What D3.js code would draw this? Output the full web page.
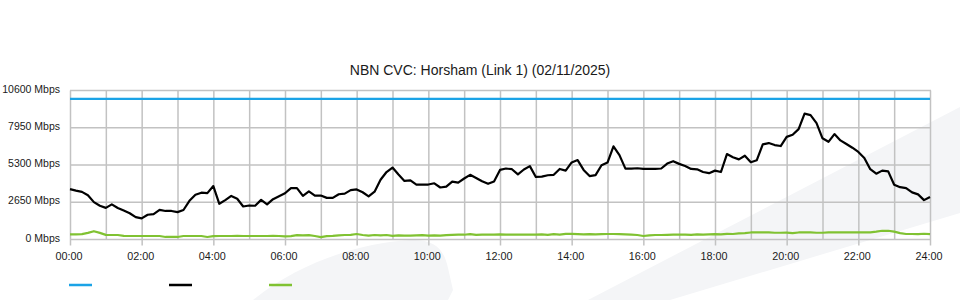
<!DOCTYPE html>
<meta charset="utf-8">
<html>
<head>
    <style>
        body {
            margin: 0;
            background: #fff;
        }

        text {
            font-family: "Liberation Sans", Arial, sans-serif;
            fill: #1a1a1a;
        }

        .grid line {
            stroke: #c2c2c2;
            stroke-width: 1.5;
        }

        .series {
            fill: none;
            stroke-width: 2.2;
            stroke-linejoin: round;
        }
    </style>

    <script src="https://d3js.org/d3.v7.min.js"></script>
</head>
<body>
  <svg width="960" height="300"></svg>
  <script>

      var chartTitle = "NBN CVC: Horsham (Link 1) (02/11/2025)";

      // one sample every 10 minutes, 00:00 -> 24:00
      var stepMinutes = 10;

      var timeLabels = ["00:00", "02:00", "04:00", "06:00", "08:00", "10:00", "12:00",
                        "14:00", "16:00", "18:00", "20:00", "22:00", "24:00"];

      var mbpsTicks = [0, 2650, 5300, 7950, 10600];

      var linkCapacity = 10000;

      // CVC usage (Mbps)
      var usage = [
          3580, 3480, 3390, 3150, 2660, 2400,
          2250, 2500, 2240, 2060, 1870, 1590,
          1500, 1760, 1810, 2110, 2030, 2030,
          1950, 2100, 2750, 3180, 3330, 3300,
          3800, 2540, 2800, 3100, 2900, 2350,
          2420, 2400, 2820, 2500, 2870, 3080,
          3290, 3650, 3660, 3100, 3420, 3120,
          3130, 2960, 2960, 3220, 3260, 3510,
          3560, 3360, 3070, 3400, 4250, 4800,
          5120, 4620, 4170, 4200, 3910, 3910,
          3910, 4000, 3700, 3760, 4120, 4050,
          4340, 4600, 4380, 4140, 3960, 4130,
          4950, 5050, 5000, 4630, 4980, 5220,
          4450, 4470, 4570, 4600, 5020, 4900,
          5480, 5650, 4950, 4510, 4580, 5280,
          5470, 6630, 6000, 5040, 5040, 5070,
          5020, 5020, 5020, 5050, 5400, 5570,
          5380, 5230, 5020, 4990, 4800, 4720,
          4900, 4800, 6080, 5850, 5700, 5960,
          5500, 5640, 6770, 6860, 6720, 6650,
          7300, 7450, 7850, 8950, 8850, 8280,
          7200, 6950, 7500, 7050, 6790, 6530,
          6230, 5800, 5000, 4680, 4900, 4850,
          3900, 3720, 3650, 3350, 3210, 2800,
          3030
      ];

      // second (low) series (Mbps)
      var lowTraffic = [
          370, 370, 380, 470, 590, 470,
          330, 320, 320, 260, 250, 250,
          250, 250, 250, 250, 180, 180,
          180, 250, 250, 250, 250, 180,
          240, 250, 250, 250, 260, 250,
          250, 250, 250, 250, 260, 250,
          220, 240, 310, 300, 310, 250,
          170, 240, 260, 300, 320, 330,
          390, 320, 280, 320, 290, 320,
          260, 300, 270, 270, 290, 310,
          280, 300, 280, 310, 330, 340,
          340, 380, 330, 340, 340, 340,
          370, 340, 340, 340, 340, 350,
          340, 360, 330, 380, 350, 400,
          400, 380, 360, 380, 360, 380,
          390, 390, 380, 370, 350, 320,
          250, 300, 320, 320, 330, 340,
          340, 340, 330, 360, 340, 360,
          380, 370, 400, 390, 430, 460,
          500, 500, 500, 500, 480, 480,
          490, 460, 500, 500, 500, 480,
          480, 510, 510, 510, 510, 510,
          510, 510, 510, 560, 620, 620,
          560, 450, 390, 390, 380, 410,
          380
      ];

      var colors = ["#1ba3e6", "#000000", "#80c232"];

      var svg = d3.select("svg");

      // faint background swooshes
      svg.append("path")
         .attr("d", "M253,300 C300,262 360,243 410,240 C436,239 444,250 448,268 L453,290 L448,300 Z")
         .attr("fill", "#f4f5f7");
      svg.append("path")
         .attr("d", "M588,300 L960,107 L960,213 L670,300 Z")
         .attr("fill", "#f4f5f7");

      var x = d3.scaleLinear().domain([0, 24 * 60]).range([70, 930]),
          y = d3.scaleLinear().domain([0, 10600]).range([239.5, 90.5]);

      svg.append("text")
         .attr("x", 480)
         .attr("y", 75)
         .attr("text-anchor", "middle")
         .attr("font-size", "14px")
         .text(chartTitle);

      var grid = svg.append("g").attr("class", "grid");

      // hourly verticals, a short tick below on labelled hours
      grid.selectAll(".v")
          .data(d3.range(0, 24 * 60 + 1, 60))
          .enter().append("line")
          .attr("class", "v")
          .attr("x1", function(d) { return x(d) + 0.5; })
          .attr("x2", function(d) { return x(d) + 0.5; })
          .attr("y1", y(10600))
          .attr("y2", function(d) { return d % 120 == 0 ? y(0) + 6 : y(0); });

      grid.selectAll(".h")
          .data(mbpsTicks)
          .enter().append("line")
          .attr("class", "h")
          .attr("x1", x(0))
          .attr("x2", x(24 * 60) + 1)
          .attr("y1", function(d) { return y(d); })
          .attr("y2", function(d) { return y(d); });

      svg.selectAll(".ylab")
         .data(mbpsTicks)
         .enter().append("text")
         .attr("class", "ylab")
         .attr("x", 60)
         .attr("y", function(d) { return y(d) + 2; })
         .attr("text-anchor", "end")
         .attr("font-size", "10.5px")
         .text(function(d) { return d + " Mbps"; });

      svg.selectAll(".xlab")
         .data(timeLabels)
         .enter().append("text")
         .attr("class", "xlab")
         .attr("x", function(d, i) { return x(i * 120) - 1; })
         .attr("y", 260)
         .attr("text-anchor", "middle")
         .attr("font-size", "10.8px")
         .text(function(d) { return d; });

      var line = d3.line()
          .x(function(d, i) { return x(i * stepMinutes); })
          .y(function(d) { return y(d); });

      svg.append("line")
         .attr("class", "series")
         .attr("x1", x(0))
         .attr("x2", x(24 * 60))
         .attr("y1", y(linkCapacity))
         .attr("y2", y(linkCapacity))
         .attr("stroke", colors[0]);

      svg.append("path")
         .datum(lowTraffic)
         .attr("class", "series")
         .attr("stroke", colors[2])
         .attr("d", line);

      svg.append("path")
         .datum(usage)
         .attr("class", "series")
         .attr("stroke", colors[1])
         .attr("d", line);

      // legend swatches
      svg.selectAll(".swatch")
         .data(colors)
         .enter().append("line")
         .attr("class", "swatch")
         .attr("x1", function(d, i) { return 69 + i * 100; })
         .attr("x2", function(d, i) { return 92 + i * 100; })
         .attr("y1", 285)
         .attr("y2", 285)
         .attr("stroke", function(d) { return d; })
         .attr("stroke-width", 2.5);

  </script>
</body>
</html>
